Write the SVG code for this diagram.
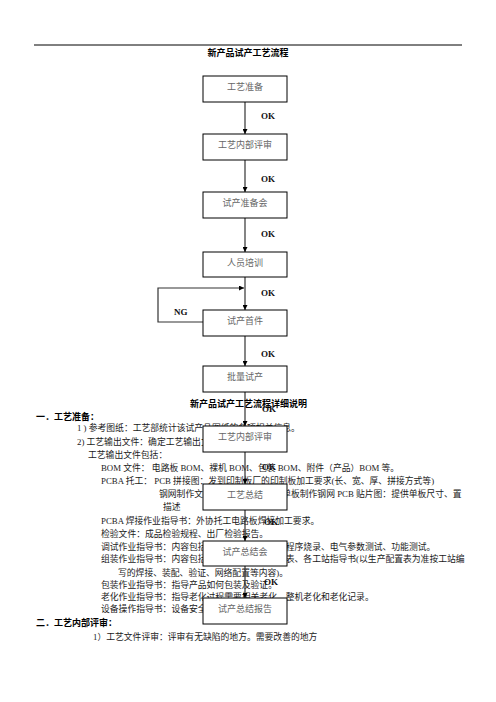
<svg xmlns="http://www.w3.org/2000/svg" width="496" height="702" viewBox="0 0 496 702">
<defs>
<style>
.t{font-family:"Liberation Serif","Noto Sans CJK SC",serif;font-size:8.8px;fill:#1a1a1a}
.h{font-family:"Liberation Serif","Noto Sans CJK SC",serif;font-size:9px;font-weight:bold;fill:#000}
.box{fill:#fff;stroke:#000;stroke-width:1}
.lbl{font-family:"Liberation Serif","Noto Sans CJK SC",serif;font-size:9px;fill:#666;text-anchor:middle}
.ok{font-family:"Liberation Serif","Noto Sans CJK SC",serif;font-size:9px;font-weight:bold;fill:#111}
.ln{stroke:#333;stroke-width:1.2;fill:none}
</style>
<marker id="ah" viewBox="0 0 8 8" refX="8" refY="4" markerWidth="5" markerHeight="5" orient="auto" markerUnits="userSpaceOnUse">
<path d="M0,0 L8,4 L0,8 Z" fill="#000"/>
</marker>
</defs>
<rect width="496" height="702" fill="#fff"/>
<line x1="34" y1="45" x2="462" y2="45" stroke="#000" stroke-width="1"/>
<text class="h" x="248" y="56" text-anchor="middle">新产品试产工艺流程</text>

<g id="body">
<text class="h" x="36" y="420">一．工艺准备：</text>
<text class="t" x="77" y="431">1 ) 参考图纸：工艺部统计该试产品图纸的各项相关信息。</text>
<text class="t" x="77" y="445">2) 工艺输出文件：确定工艺输出文件。</text>
<text class="t" x="88" y="458">工艺输出文件包括：</text>
<text class="t" x="101" y="471">BOM 文件：  电路板 BOM、裸机 BOM、包装 BOM、附件（产品）BOM 等。</text>
<text class="t" x="101" y="484">PCBA 托工：  PCB 拼接图：发到印制板厂的印制板加工要求(长、宽、厚、拼接方式等)</text>
<text class="t" x="159" y="497">钢网制作文件：提供钢网厂根据单板制作钢网 PCB 贴片图：提供单板尺寸、置</text>
<text class="t" x="163" y="510">描述</text>
<text class="t" x="101" y="524">PCBA 焊接作业指导书：外协托工电路板焊接加工要求。</text>
<text class="t" x="101" y="537">检验文件：成品检验规程、出厂检验报告。</text>
<text class="t" x="101" y="550">调试作业指导书：内容包括单板测试方法、单板程序烧录、电气参数测试、功能测试。</text>
<text class="t" x="101" y="562">组装作业指导书：内容包括装配流程、生产配置表、各工站指导书(以生产配置表为准按工站编</text>
<text class="t" x="118" y="576">写的焊接、装配、验证、网络配置等内容)。</text>
<text class="t" x="101" y="588">包装作业指导书：指导产品如何包装及验证。</text>
<text class="t" x="101" y="600">老化作业指导书：指导老化过程需要相关老化、整机老化和老化记录。</text>
<text class="t" x="101" y="612">设备操作指导书：设备安全操作规程。</text>
<text class="h" x="36" y="626">二．工艺内部评审：</text>
<text class="t" x="93" y="640">1）工艺文件评审：评审有无缺陷的地方。需要改善的地方</text>
</g>

<g id="connectors">
<line class="ln" x1="245" y1="102" x2="245" y2="134" marker-end="url(#ah)"/>
<line class="ln" x1="245" y1="160" x2="245" y2="192" marker-end="url(#ah)"/>
<line class="ln" x1="245" y1="218" x2="245" y2="252" marker-end="url(#ah)"/>
<line class="ln" x1="245" y1="277" x2="245" y2="310" marker-end="url(#ah)"/>
<line class="ln" x1="245" y1="336" x2="245" y2="366" marker-end="url(#ah)"/>
<line class="ln" x1="245" y1="392" x2="245" y2="426" marker-end="url(#ah)"/>
<line class="ln" x1="245" y1="452" x2="245" y2="484" marker-end="url(#ah)"/>
<line class="ln" x1="245" y1="510" x2="245" y2="541" marker-end="url(#ah)"/>
<line class="ln" x1="245" y1="566" x2="245" y2="598" marker-end="url(#ah)"/>
<polyline class="ln" points="203,322 158,322 158,288 244,288" marker-end="url(#ah)"/>
</g>

<text class="h" x="248.5" y="406.5" text-anchor="middle">新产品试产工艺流程详细说明</text>

<g id="n1"><rect class="box" x="203" y="76" width="84" height="26"/><text class="lbl" x="245" y="89.5">工艺准备</text></g>
<g id="n2"><rect class="box" x="203" y="134" width="84" height="26"/><text class="lbl" x="245" y="147.5">工艺内部评审</text></g>
<g id="n3"><rect class="box" x="203" y="192" width="84" height="26"/><text class="lbl" x="245" y="205.5">试产准备会</text></g>
<g id="n4"><rect class="box" x="203" y="252" width="84" height="25"/><text class="lbl" x="245" y="265.5">人员培训</text></g>
<g id="n5"><rect class="box" x="203" y="310" width="84" height="26"/><text class="lbl" x="245" y="323.5">试产首件</text></g>
<g id="n6"><rect class="box" x="203" y="366" width="84" height="26"/><text class="lbl" x="245" y="379.5">批量试产</text></g>
<g id="n7"><rect class="box" x="203" y="426" width="84" height="26"/><text class="lbl" x="245" y="439.5">工艺内部评审</text></g>
<g id="n8"><rect class="box" x="203" y="484" width="84" height="26"/><text class="lbl" x="245" y="497.5">工艺总结</text></g>
<g id="n9"><rect class="box" x="203" y="541" width="84" height="25"/><text class="lbl" x="245" y="554.5">试产总结会</text></g>
<g id="n10"><rect class="box" x="203" y="598" width="84" height="26"/><text class="lbl" x="245" y="611.5">试产总结报告</text></g>

<g id="labels">
<text class="ok" x="261" y="119">OK</text>
<text class="ok" x="261" y="182">OK</text>
<text class="ok" x="261" y="237">OK</text>
<text class="ok" x="261" y="296">OK</text>
<text class="ok" x="261" y="357">OK</text>
<text class="ok" x="262" y="412">OK</text>
<text class="ok" x="262" y="470">OK</text>
<text class="ok" x="264" y="525">OK</text>
<text class="ok" x="264" y="585">OK</text>
<text class="ok" x="174" y="315">NG</text>
</g>
</svg>
